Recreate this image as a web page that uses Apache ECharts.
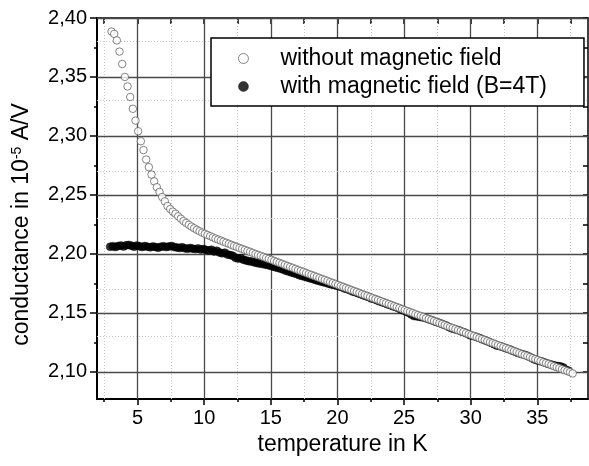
<!DOCTYPE html>
<html>
<head>
<meta charset="utf-8">
<script src="https://cdn.jsdelivr.net/npm/echarts@6/dist/echarts.min.js"></script>
<style>
html,body{margin:0;padding:0;background:#fff;}
#c{width:589px;height:466px;}
</style>
</head>
<body>
<div id="c"></div>
<script>
// ---- data ----
const tempNoField = [3.05,3.25,3.45,3.65,3.85,4.05,4.25,4.45,4.65,4.85,5.05,5.25,5.45,5.65,5.85,6.05,6.25,6.45,6.65,6.85,7.05,7.25,7.45,7.65,7.85,8.05,8.25,8.45,8.65,8.85,9.05,9.25,9.45,9.65,9.85,10.05,10.25,10.45,10.65,10.85,11.05,11.25,11.45,11.65,11.85,12.05,12.25,12.45,12.65,12.85,13.05,13.25,13.45,13.65,13.85,14.05,14.25,14.45,14.65,14.85,15.05,15.25,15.45,15.65,15.85,16.05,16.25,16.45,16.65,16.85,17.05,17.25,17.45,17.65,17.85,18.05,18.25,18.45,18.65,18.85,19.05,19.25,19.45,19.65,19.85,20.05,20.25,20.45,20.65,20.85,21.05,21.25,21.45,21.65,21.85,22.05,22.25,22.45,22.65,22.85,23.05,23.25,23.45,23.65,23.85,24.05,24.25,24.45,24.65,24.85,25.05,25.25,25.45,25.65,25.85,26.05,26.25,26.45,26.65,26.85,27.05,27.25,27.45,27.65,27.85,28.05,28.25,28.45,28.65,28.85,29.05,29.25,29.45,29.65,29.85,30.05,30.25,30.45,30.65,30.85,31.05,31.25,31.45,31.65,31.85,32.05,32.25,32.45,32.65,32.85,33.05,33.25,33.45,33.65,33.85,34.05,34.25,34.45,34.65,34.85,35.05,35.25,35.45,35.65,35.85,36.05,36.25,36.45,36.65,36.85,37.05,37.25,37.45,37.65];
const condNoField = [2.3885,2.3865,2.3810,2.3715,2.3610,2.3500,2.3420,2.3330,2.3230,2.3130,2.3040,2.2955,2.2880,2.2800,2.2735,2.2672,2.2615,2.2565,2.2525,2.2482,2.2445,2.2405,2.2380,2.2358,2.2340,2.2318,2.2298,2.2278,2.2262,2.2246,2.2231,2.2217,2.2204,2.2192,2.2180,2.2170,2.2160,2.2150,2.2140,2.2130,2.2121,2.2112,2.2103,2.2094,2.2085,2.2076,2.2067,2.2059,2.2050,2.2042,2.2033,2.2025,2.2017,2.2008,2.1999,2.1991,2.1983,2.1974,2.1965,2.1957,2.1949,2.1940,2.1931,2.1923,2.1915,2.1906,2.1897,2.1889,2.1881,2.1872,2.1863,2.1855,2.1847,2.1838,2.1829,2.1821,2.1813,2.1804,2.1795,2.1787,2.1779,2.1770,2.1761,2.1753,2.1745,2.1736,2.1727,2.1719,2.1711,2.1702,2.1693,2.1685,2.1677,2.1668,2.1659,2.1651,2.1643,2.1634,2.1625,2.1617,2.1609,2.1600,2.1591,2.1583,2.1575,2.1566,2.1557,2.1549,2.1541,2.1532,2.1523,2.1515,2.1507,2.1498,2.1489,2.1481,2.1473,2.1464,2.1455,2.1447,2.1439,2.1430,2.1421,2.1413,2.1405,2.1396,2.1387,2.1379,2.1371,2.1362,2.1353,2.1345,2.1337,2.1328,2.1319,2.1311,2.1303,2.1294,2.1285,2.1277,2.1269,2.1260,2.1251,2.1243,2.1235,2.1226,2.1217,2.1209,2.1201,2.1192,2.1183,2.1175,2.1167,2.1158,2.1149,2.1141,2.1133,2.1124,2.1115,2.1107,2.1099,2.1090,2.1081,2.1073,2.1065,2.1056,2.1047,2.1039,2.1031,2.1022,2.1013,2.1005,2.0997,2.0986];
const tempField = [2.95,3.15,3.35,3.55,3.75,3.95,4.15,4.35,4.55,4.75,4.95,5.15,5.35,5.55,5.75,5.95,6.15,6.35,6.55,6.75,6.95,7.15,7.35,7.55,7.75,7.95,8.15,8.35,8.55,8.75,8.95,9.15,9.35,9.55,9.75,9.95,10.15,10.35,10.55,10.75,10.95,11.15,11.35,11.55,11.75,11.95,12.15,12.35,12.55,12.75,12.95,13.15,13.35,13.55,13.75,13.95,14.15,14.35,14.55,14.75,14.95,15.15,15.35,15.55,15.75,15.95,16.15,16.35,16.55,16.75,16.95,17.15,17.35,17.55,17.75,17.95,18.15,18.35,18.55,18.75,18.95,19.15,19.35,19.55,19.75,19.95,20.15,20.35,20.55,20.75,20.95,21.15,21.35,21.55,21.75,21.95,22.15,22.35,22.55,22.75,22.95,23.15,23.35,23.55,23.75,23.95,24.15,24.35,24.55,24.75,24.95,25.15,25.35,25.55,25.75,25.95,26.15,26.35,26.55,26.75,26.95,27.15,27.35,27.55,27.75,27.95,28.15,28.35,28.55,28.75,28.95,29.15,29.35,29.55,29.75,29.95,30.15,30.35,30.55,30.75,30.95,31.15,31.35,31.55,31.75,31.95,32.15,32.35,32.55,32.75,32.95,33.15,33.35,33.55,33.75,33.95,34.15,34.35,34.55,34.75,34.95,35.15,35.35,35.55,35.75,35.95,36.15,36.35,36.55,36.75,36.95,37.15,37.35];
const condField = [2.2060,2.2065,2.2058,2.2066,2.2070,2.2062,2.2072,2.2076,2.2068,2.2061,2.2070,2.2064,2.2058,2.2066,2.2060,2.2055,2.2063,2.2058,2.2052,2.2060,2.2064,2.2057,2.2062,2.2066,2.2058,2.2054,2.2050,2.2056,2.2047,2.2043,2.2050,2.2044,2.2040,2.2046,2.2036,2.2040,2.2033,2.2028,2.2035,2.2020,2.2026,2.2012,2.2004,2.2010,2.1994,2.1990,2.1983,2.1966,2.1960,2.1962,2.1950,2.1944,2.1938,2.1934,2.1928,2.1922,2.1918,2.1915,2.1910,2.1906,2.1900,2.1893,2.1886,2.1880,2.1874,2.1866,2.1856,2.1850,2.1842,2.1836,2.1828,2.1818,2.1812,2.1806,2.1800,2.1792,2.1786,2.1779,2.1772,2.1766,2.1760,2.1754,2.1747,2.1741,2.1735,2.1730,2.1724,2.1716,2.1706,2.1699,2.1691,2.1680,2.1674,2.1665,2.1658,2.1648,2.1641,2.1633,2.1622,2.1616,2.1607,2.1597,2.1590,2.1583,2.1572,2.1566,2.1556,2.1549,2.1540,2.1528,2.1520,2.1510,2.1500,2.1486,2.1472,2.1470,2.1466,2.1462,2.1458,2.1450,2.1442,2.1434,2.1425,2.1418,2.1410,2.1400,2.1392,2.1380,2.1370,2.1362,2.1356,2.1350,2.1340,2.1332,2.1322,2.1310,2.1304,2.1298,2.1290,2.1282,2.1272,2.1264,2.1254,2.1244,2.1234,2.1222,2.1218,2.1212,2.1204,2.1196,2.1188,2.1178,2.1170,2.1160,2.1152,2.1146,2.1140,2.1130,2.1118,2.1106,2.1098,2.1092,2.1086,2.1078,2.1070,2.1064,2.1058,2.1052,2.1048,2.1045,2.1036,2.1016,2.1008];
const xMajorTicks = [5,10,15,20,25,30,35];
const xMinorTicks = [2.5,7.5,12.5,17.5,22.5,27.5,32.5,37.5];
const yMajorTicks = [2.10,2.15,2.20,2.25,2.30,2.35,2.40];
const yMinorTicks = [2.125,2.175,2.225,2.275,2.325,2.375];
const seriesNames = ['without magnetic field','with magnetic field (B=4T)'];
const xTitle = 'temperature in K';

// ---- chart ----
const FONT = 'Liberation Sans, Arial, sans-serif';
const X_MIN = 1.96, X_MAX = 38.8, Y_MIN = 2.0769, Y_MAX = 2.40;
const pair = (xs, ys) => xs.map((x, i) => [x, ys[i]]);

const gridLines = [];
xMajorTicks.forEach(v => gridLines.push({xAxis: v, lineStyle: {color: '#4a4a4a', width: 1.3, type: 'solid'}}));
xMinorTicks.forEach(v => gridLines.push({xAxis: v, lineStyle: {color: '#c4c4c4', width: 1, type: [1, 2]}}));
yMajorTicks.forEach(v => gridLines.push({yAxis: v, lineStyle: {color: '#4a4a4a', width: 1.3, type: 'solid'}}));
yMinorTicks.forEach(v => gridLines.push({yAxis: v, lineStyle: {color: '#c4c4c4', width: 1, type: [1, 2]}}));

const baseX = {type: 'value', min: X_MIN, max: X_MAX, splitLine: {show: false}};
const baseY = {type: 'value', min: Y_MIN, max: Y_MAX, splitLine: {show: false}};

const openStyle = {color: '#fff', borderColor: '#555', borderWidth: 0.9};
const fillStyle = {color: '#000', borderColor: '#000', borderWidth: 0.5};

const option = {
  animation: false,
  backgroundColor: '#fff',
  grid: {left: 97, right: 1, top: 18, bottom: 67, containLabel: false},
  xAxis: [
    Object.assign({}, baseX, {
      position: 'bottom',
      name: xTitle, nameLocation: 'middle', nameGap: 29,
      nameTextStyle: {fontFamily: FONT, fontSize: 23, color: '#000'},
      axisLine: {show: true, onZero: false, lineStyle: {color: '#000', width: 2}},
      axisTick: {show: true, inside: false, length: 6, customValues: xMajorTicks, lineStyle: {color: '#000', width: 1.5}},
      axisLabel: {show: true, customValues: xMajorTicks, margin: 9, fontFamily: FONT, fontSize: 20, color: '#000',
        formatter: v => String(v)}
    }),
    Object.assign({}, baseX, {
      position: 'bottom',
      axisLine: {show: false, onZero: false},
      axisTick: {show: true, inside: false, length: 3, customValues: xMinorTicks, lineStyle: {color: '#000', width: 1.5}},
      axisLabel: {show: false}
    }),
    Object.assign({}, baseX, {
      position: 'top',
      axisLine: {show: true, onZero: false, lineStyle: {color: '#000', width: 1.5}},
      axisTick: {show: true, inside: true, length: 6, customValues: xMajorTicks.concat(xMinorTicks), lineStyle: {color: '#000', width: 1.5}},
      axisLabel: {show: false}
    })
  ],
  yAxis: [
    Object.assign({}, baseY, {
      position: 'left',
      name: 'conductance in 10{sup|-5} A/V', nameLocation: 'middle', nameGap: 63, nameRotate: 90,
      nameTextStyle: {fontFamily: FONT, fontSize: 23, color: '#000', padding: [0, 32, 0, 0],
        rich: {sup: {fontFamily: FONT, fontSize: 14, color: '#000', verticalAlign: 'top', padding: [0, 0, 10, 0]}}},
      axisLine: {show: true, onZero: false, lineStyle: {color: '#000', width: 2}},
      axisTick: {show: true, inside: false, length: 7, customValues: yMajorTicks, lineStyle: {color: '#000', width: 1.5}},
      axisLabel: {show: true, customValues: yMajorTicks, margin: 10, fontFamily: FONT, fontSize: 20, color: '#000',
        formatter: v => v.toFixed(2).replace('.', ',')}
    }),
    Object.assign({}, baseY, {
      position: 'left',
      axisLine: {show: false, onZero: false},
      axisTick: {show: true, inside: false, length: 3, customValues: yMinorTicks, lineStyle: {color: '#000', width: 1.5}},
      axisLabel: {show: false}
    }),
    Object.assign({}, baseY, {
      position: 'right',
      axisLine: {show: true, onZero: false, lineStyle: {color: '#000', width: 1.5}},
      axisTick: {show: true, inside: true, length: 5, customValues: yMajorTicks.concat(yMinorTicks), lineStyle: {color: '#000', width: 1.5}},
      axisLabel: {show: false}
    })
  ],
  legend: {
    orient: 'vertical', left: 211, top: 38,
    padding: [9, 37, 8, 27], itemGap: 5, itemWidth: 10, itemHeight: 10,
    borderColor: '#000', borderWidth: 1.5, backgroundColor: '#fff',
    formatter: n => '{g|}' + n,
    textStyle: {fontFamily: FONT, fontSize: 23, color: '#000', rich: {g: {width: 27}}},
    data: [
      {name: seriesNames[0], icon: 'circle', itemStyle: openStyle},
      {name: seriesNames[1], icon: 'circle', itemStyle: fillStyle}
    ],
    z: 20
  },
  series: [
    {
      name: seriesNames[1], type: 'scatter', xAxisIndex: 0, yAxisIndex: 0, z: 3,
      symbol: 'circle', symbolSize: 8,
      itemStyle: fillStyle,
      data: pair(tempField, condField),
      markLine: {silent: true, z: 1, symbol: ['none', 'none'], label: {show: false}, emphasis: {disabled: true},
        animation: false, data: gridLines}
    },
    {
      name: seriesNames[0], type: 'scatter', xAxisIndex: 0, yAxisIndex: 0, z: 4,
      symbol: 'circle', symbolSize: 7.5,
      itemStyle: openStyle,
      data: pair(tempNoField, condNoField)
    }
  ]
};
const chart = echarts.init(document.getElementById('c'), null, {renderer: 'canvas'});
chart.setOption(option);
</script>
</body>
</html>
